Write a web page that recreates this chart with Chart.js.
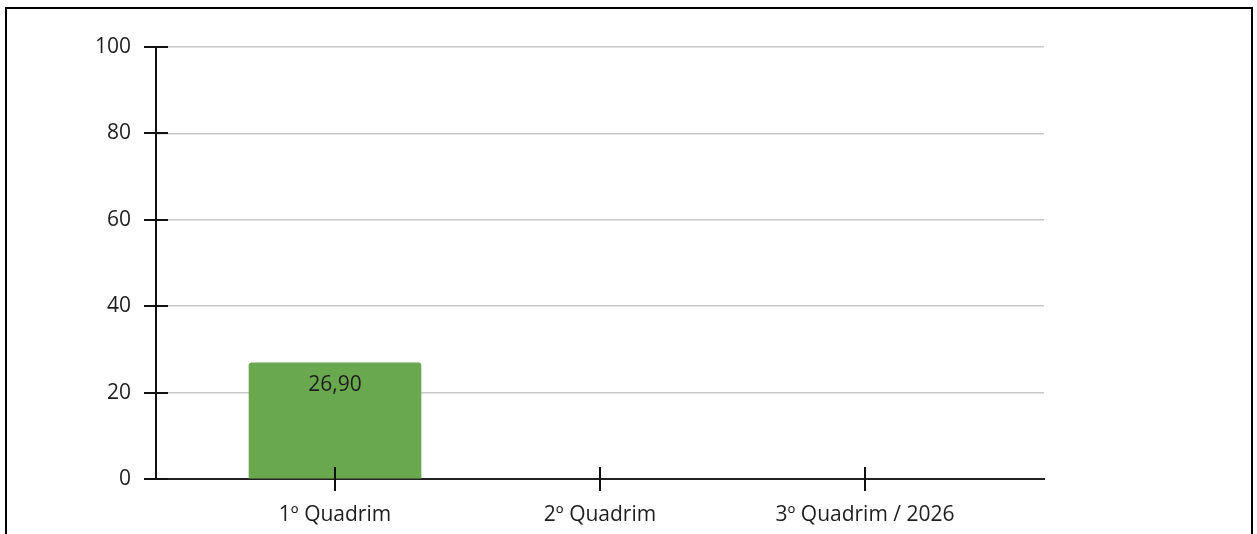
<!DOCTYPE html>
<html>
<head>
<meta charset="utf-8">
<script src="https://cdn.jsdelivr.net/npm/chart.js@4/dist/chart.umd.min.js"></script>
<style>
  html, body { margin: 0; padding: 0; background: #fff; }
  body { width: 1257px; height: 534px; position: relative; overflow: hidden; }
  #frame {
    position: absolute; left: 5px; top: 7px; width: 1248px; height: 600px;
    box-sizing: border-box; border: 2px solid #000;
  }
  #wrap { position: absolute; left: 0; top: 0; width: 1257px; height: 534px; }
</style>
</head>
<body>
<div id="frame"></div>
<div id="wrap"><canvas id="chart"></canvas></div>
<script>
// Chart data
const categories = ['1º Quadrim', '2º Quadrim', '3º Quadrim / 2026'];
const values = [26.90, null, null];
const yTicks = [0, 20, 40, 60, 80, 100];

const FONT = "'Open Sans', 'DejaVu Sans', sans-serif";
const TEXT = '#1e1e1e';

// ticks that cross the axis lines, like the original
const crossTicks = {
  id: 'crossTicks',
  afterDraw(chart) {
    const { ctx, scales: { x, y } } = chart;
    ctx.save();
    ctx.strokeStyle = '#111';
    ctx.lineWidth = 2;
    y.ticks.forEach((t, i) => {
      const py = Math.round(y.getPixelForTick(i));
      ctx.beginPath();
      ctx.moveTo(x.left - 12, py);
      ctx.lineTo(x.left + 12, py);
      ctx.stroke();
    });
    x.ticks.forEach((t, i) => {
      const px = Math.round(x.getPixelForTick(i));
      ctx.beginPath();
      ctx.moveTo(px, y.bottom - 12);
      ctx.lineTo(px, y.bottom + 12);
      ctx.stroke();
    });
    ctx.restore();
  }
};

// value label inside the top of the bar
const barLabels = {
  id: 'barLabels',
  afterDatasetsDraw(chart) {
    const { ctx } = chart;
    const meta = chart.getDatasetMeta(0);
    ctx.save();
    ctx.font = '21px ' + FONT;
    ctx.fillStyle = TEXT;
    ctx.textAlign = 'center';
    ctx.textBaseline = 'middle';
    meta.data.forEach((bar, i) => {
      if (values[i] == null) return;
      ctx.fillText(values[i].toFixed(2).replace('.', ','), bar.x, bar.y + 22);
    });
    ctx.restore();
  }
};

new Chart(document.getElementById('chart'), {
  type: 'bar',
  data: {
    datasets: [{
      data: categories.map((c, i) => ({ x: i, y: values[i] })),
      backgroundColor: '#6aa84f',
      borderRadius: 3,
      borderSkipped: 'bottom',
      barThickness: 172
    }]
  },
  plugins: [crossTicks, barLabels],
  options: {
    responsive: true,
    maintainAspectRatio: false,
    animation: false,
    layout: { padding: { top: 47, right: 213, left: 0, bottom: 0 } },
    plugins: {
      legend: { display: false },
      tooltip: { enabled: false }
    },
    scales: {
      x: {
        type: 'linear',
        offset: false,
        min: -0.6755,
        max: 2.6755,
        afterBuildTicks(scale) {
          scale.ticks = categories.map((c, i) => ({ value: i }));
        },
        afterFit(scale) { scale.height = 55; },
        grid: { display: false, drawTicks: false, offset: false },
        border: { display: true, color: '#222', width: 2 },
        ticks: {
          autoSkip: false,
          maxRotation: 0,
          padding: 23,
          color: TEXT,
          font: { family: FONT, size: 21 },
          callback: (v) => categories[v]
        }
      },
      y: {
        min: 0,
        max: 100,
        afterBuildTicks(scale) {
          scale.ticks = yTicks.map(v => ({ value: v }));
        },
        afterFit(scale) { scale.width = 156; },
        grid: { color: '#c8c8c8', lineWidth: 1.5, drawTicks: false },
        border: { display: true, color: '#111', width: 2 },
        ticks: {
          padding: 25,
          color: TEXT,
          font: { family: FONT, size: 21 }
        }
      }
    }
  }
});
</script>
</body>
</html>
